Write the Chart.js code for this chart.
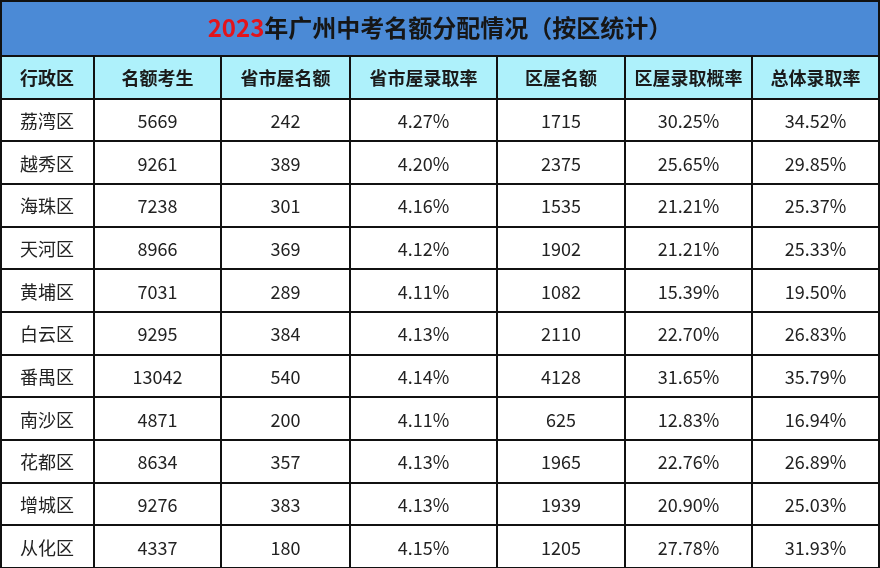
<!DOCTYPE html>
<html><head><meta charset="utf-8">
<script src="https://cdn.jsdelivr.net/npm/chart.js@4"></script>
<style>html,body{margin:0;padding:0;background:#fff}#w{width:880px;height:568px}</style>
</head><body><div id="w"><canvas id="c"></canvas></div>
<script>
const titleYear = "2023";
const titleRest = "年广州中考名额分配情况（按区统计）";
const headers = ["行政区","名额考生","省市屋名额","省市屋录取率","区屋名额","区屋录取概率","总体录取率"];
const districts = ["荔湾区","越秀区","海珠区","天河区","黄埔区","白云区","番禺区","南沙区","花都区","增城区","从化区"];
const candidates = [5669,9261,7238,8966,7031,9295,13042,4871,8634,9276,4337];
const cityQuota = [242,389,301,369,289,384,540,200,357,383,180];
const cityRate = ["4.27%","4.20%","4.16%","4.12%","4.11%","4.13%","4.14%","4.11%","4.13%","4.13%","4.15%"];
const districtQuota = [1715,2375,1535,1902,1082,2110,4128,625,1965,1939,1205];
const districtRate = ["30.25%","25.65%","21.21%","21.21%","15.39%","22.70%","31.65%","12.83%","22.76%","20.90%","27.78%"];
const totalRate = ["34.52%","29.85%","25.37%","25.33%","19.50%","26.83%","35.79%","16.94%","26.89%","25.03%","31.93%"];
const colEdges = [0,94,221,350,497,625,752,879];

const rows = ["__h", ...districts];
const tablePlugin = {
  id:'table',
  afterDraw(chart){
    const ctx = chart.ctx, ys = chart.scales.y, xs = chart.scales.x;
    const rh = (ys.getPixelForValue(1) - ys.getPixelForValue(0));
    const top = ys.getPixelForValue(0) - rh/2;
    const X = v => xs.getPixelForValue(v);
    ctx.save();
    ctx.fillStyle = '#4b8ad6';
    ctx.fillRect(0,0,chart.width,top);
    ctx.fillStyle = '#aef1fb';
    ctx.fillRect(0,top,chart.width,rh);
    ctx.fillStyle = '#fff';
    ctx.fillRect(0,top+rh,chart.width,chart.height-top-rh);
    ctx.font = 'bold 24px "Noto Sans CJK SC"';
    ctx.textBaseline = 'middle';
    const w1 = ctx.measureText(titleYear).width, w2 = ctx.measureText(titleRest).width;
    let tx = chart.width/2 - (w1+w2)/2;
    ctx.textAlign = 'left';
    ctx.fillStyle = '#e3141b'; ctx.fillText(titleYear, tx, top/2);
    ctx.fillStyle = '#161616'; ctx.fillText(titleRest, tx+w1, top/2);
    ctx.textAlign = 'center';
    rows.forEach((r,i)=>{
      const cy = ys.getPixelForValue(i);
      let vals;
      if(i===0){ vals = headers; ctx.font = 'bold 18px "Noto Sans CJK SC"'; ctx.fillStyle='#1a1a1a'; }
      else { const k=i-1; vals=[districts[k],candidates[k],cityQuota[k],cityRate[k],districtQuota[k],districtRate[k],totalRate[k]]; ctx.font = '18px "Noto Sans CJK SC"'; ctx.fillStyle='#222'; }
      vals.forEach((v,j)=>{ ctx.fillText(String(v),(X(colEdges[j])+X(colEdges[j+1]))/2, cy+1); });
    });
    ctx.strokeStyle = '#111'; ctx.lineWidth = 2;
    ctx.beginPath();
    ctx.moveTo(0,1); ctx.lineTo(chart.width,1);
    for(let i=0;i<=rows.length;i++){ const y=Math.round(top+i*rh); ctx.moveTo(0,y); ctx.lineTo(chart.width,y); }
    ctx.moveTo(1,0); ctx.lineTo(1,chart.height);
    ctx.moveTo(chart.width-1,0); ctx.lineTo(chart.width-1,chart.height);
    colEdges.slice(1,-1).forEach(e=>{ const x=Math.round(X(e)); ctx.moveTo(x,top); ctx.lineTo(x,chart.height); });
    ctx.stroke();
    ctx.restore();
  }
};
new Chart(document.getElementById('c'),{
  type:'scatter',
  data:{datasets:[{data:[]}]},
  options:{
    responsive:true, maintainAspectRatio:false, animation:false, devicePixelRatio:1,
    layout:{padding:{top:56,left:0,right:0,bottom:0}},
    plugins:{legend:{display:false},tooltip:{enabled:false}},
    scales:{
      x:{type:'linear',min:0,max:880,display:false},
      y:{type:'category',labels:rows,offset:true,display:false}
    }
  },
  plugins:[tablePlugin]
});
</script></body></html>
